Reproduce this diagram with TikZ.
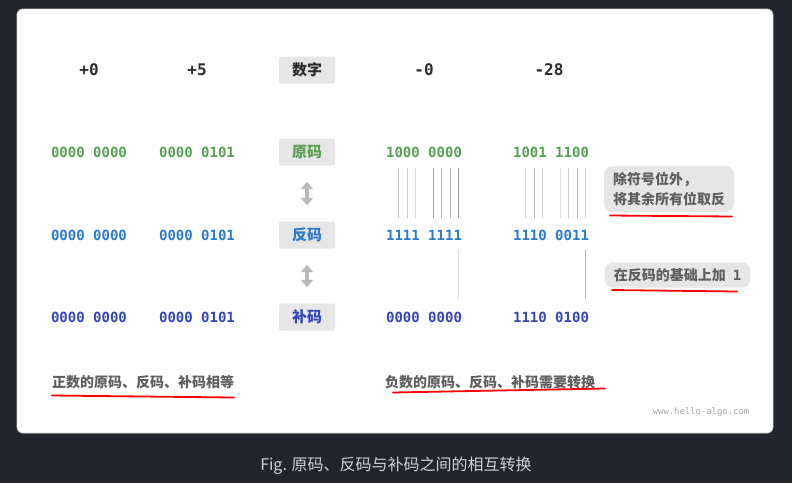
\documentclass[tikz,border=0pt]{standalone}
\usepackage{fontspec}
\setmainfont{Noto Sans CJK SC}
\setmonofont{DejaVu Sans Mono}
\usetikzlibrary{arrows.meta}

\definecolor{fond}{HTML}{22242E}
\definecolor{vert}{HTML}{56A052}
\definecolor{bleu}{HTML}{2A7BCB}
\definecolor{indigo}{HTML}{3346B8}
\definecolor{texte}{HTML}{2B2B2B}
\definecolor{gris}{HTML}{5E5E5E}
\definecolor{boite}{HTML}{E6E6E6}

\begin{document}
\begin{tikzpicture}[x=1pt, y=-1pt]

	% fond et carte
	\fill[fond] (0,0) rectangle (792,483);
	\useasboundingbox (0,0) rectangle (792,483);
	\fill[white, draw=gray!35, line width=0.8pt, rounded corners=6pt] (17,9) rectangle (773,433);

	\tikzset{
		num/.style={font=\ttfamily\bfseries\fontsize{14}{16}\selectfont, inner sep=0pt},
		head/.style={font=\ttfamily\bfseries\fontsize{16}{18}\selectfont, inner sep=0pt, text=texte},
		tag/.style={fill=boite, rounded corners=2pt, minimum width=56pt, minimum height=27pt,
				inner sep=0pt, font=\bfseries\fontsize{15}{17}\selectfont},
		note/.style={fill=boite, rounded corners=8pt, inner xsep=9pt, inner ysep=6pt, text=gris,
				font=\bfseries\fontsize{14}{20}\selectfont, align=left},
		lbl/.style={font=\bfseries\fontsize{14}{16}\selectfont, text=gris, inner sep=0pt, anchor=west},
		updown/.style={{Triangle[width=12pt,length=7.5pt]}-{Triangle[width=12pt,length=7.5pt]},
				line width=4.5pt, gray!55, shorten <=16pt, shorten >=16pt},
		uline/.style={red, line width=1.8pt, line cap=round}
	}

	% colonne des etiquettes
	\node[tag, text=texte]  (chiffre) at (307,70)  {数字};
	\node[tag, text=vert]   (yuan)    at (307,152) {原码};
	\node[tag, text=bleu]   (fan)     at (307,235) {反码};
	\node[tag, text=indigo] (bu)      at (307,317) {补码};

	\draw[updown] (yuan) -- (fan);
	\draw[updown] (fan) -- (bu);

	% nombres
	\node[head] (pz) at (89,70)  {+0};
	\node[head] (pc) at (197,70) {+5};
	\node[head] (mz) at (424,70) {-0};
	\node[head] (mv) at (549,70) {-28};

	\foreach \nom/\x/\a/\b/\c in {pz/89/0000 0000/0000 0000/0000 0000,
			pc/197/0000 0101/0000 0101/0000 0101,
			mz/424/1000 0000/1111 1111/0000 0000,
			mv/551/1001 1100/1110 0011/1110 0100}{
			\node[num, text=vert]   (\nom-yuan) at (\x,152) {\a};
			\node[num, text=bleu]   (\nom-fan)  at (\x,235) {\b};
			\node[num, text=indigo] (\nom-bu)   at (\x,317) {\c};
		}

	% traits des bits inverses
	\foreach \x/\g in {398.6/45, 407.2/40, 415.8/30, 433/75, 441.6/60, 450.2/55, 458.8/75,
			525.6/35, 534.2/60, 542.8/30, 560/25, 568.6/35, 577.2/60, 585.8/30}{
			\draw[gray!\g, line width=1pt] (\x,168) -- (\x,218);
		}

	% traits du bit ajoute
	\draw[gray!25, line width=1pt] (458.8,250) -- (458.8,299);
	\draw[gray!60, line width=1pt] (585.8,250) -- (585.8,299);

	% bulles
	\node[note] (inv) at (669,189) {除符号位外，\\将其余所有位取反};
	\node[note] (plus) at (677.5,275) {在反码的基础上加\hspace{7pt}{\ttfamily 1}};
	\draw[uline] (610,215.5) -- (732,216.5);
	\draw[uline] (612,290) -- (737,291.5);

	% legendes du bas
	\node[lbl] (pos) at (52,382)  {正数的原码、反码、补码相等};
	\node[lbl] (neg) at (385,382) {负数的原码、反码、补码需要转换};
	\draw[uline] (52,395.5) -- (234,397.5);
	\draw[uline] (393,392.5) -- (605,388.5);

	\node[font=\ttfamily\fontsize{8.9}{10}\selectfont, text=gray!70, inner sep=0pt] (site) at (701,412.5) {www.hello-algo.com};

	% titre
	\node[font=\fontsize{16}{18}\selectfont, text=gray!35!white] (titre) at (396,466) {Fig. 原码、反码与补码之间的相互转换};

\end{tikzpicture}
\end{document}
